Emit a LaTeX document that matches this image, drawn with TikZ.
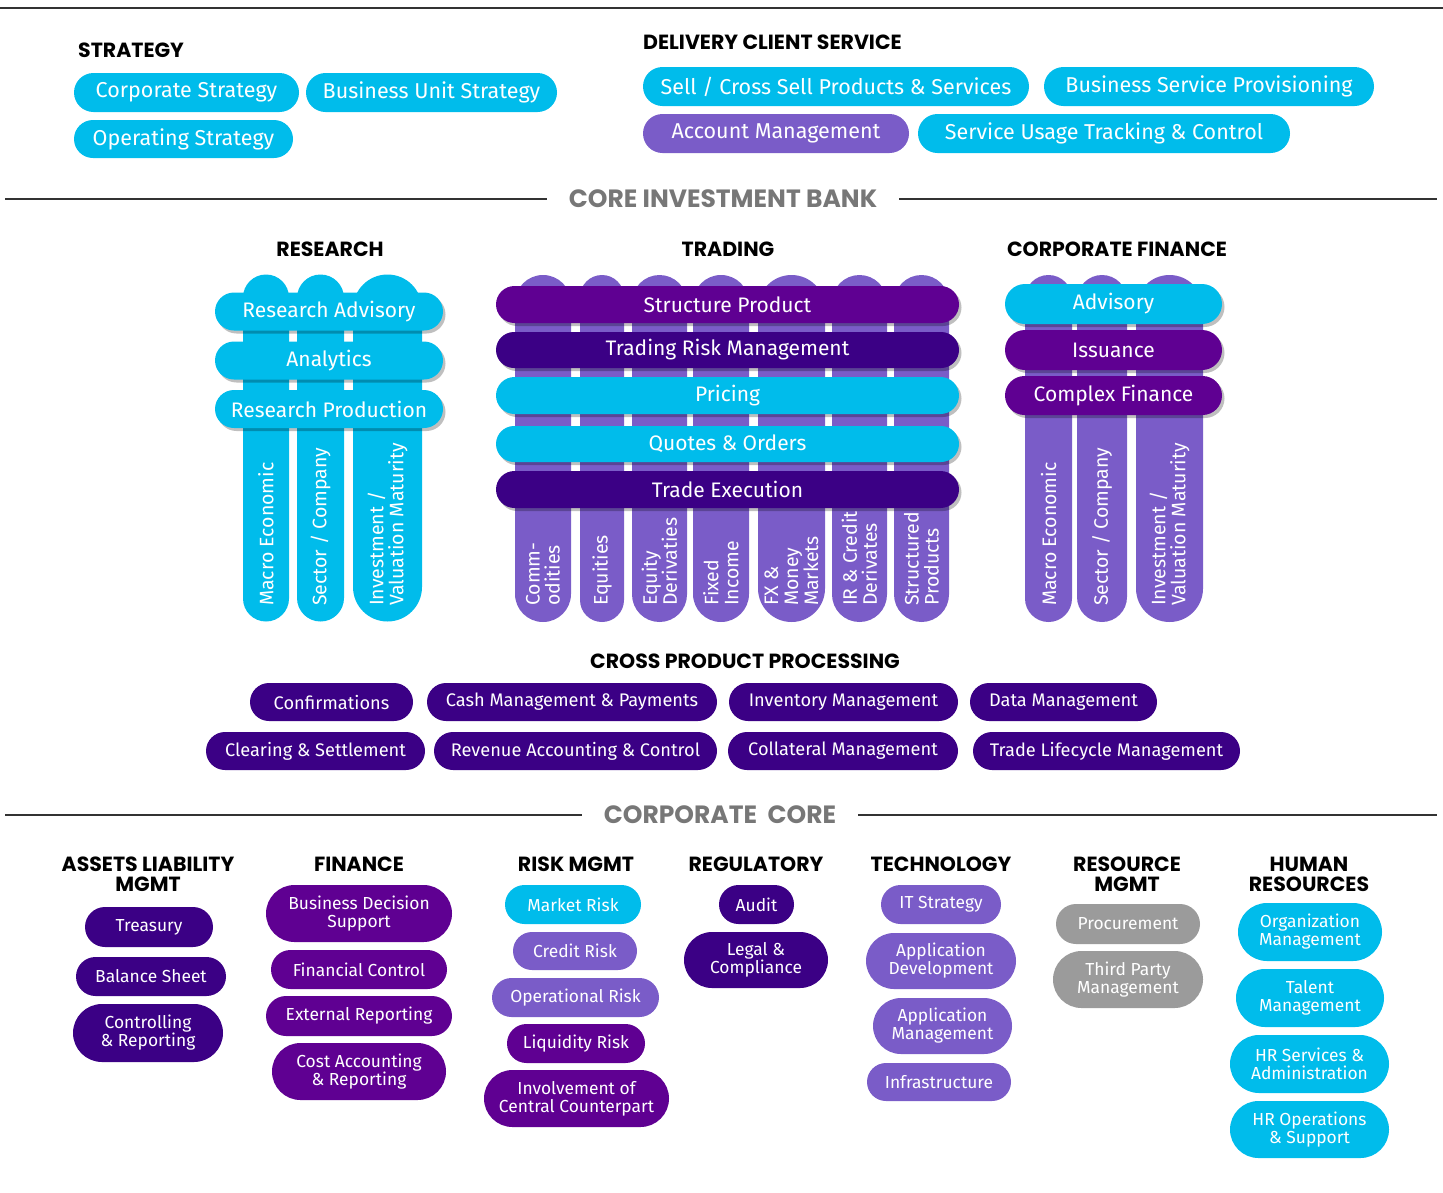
\documentclass[tikz,border=0pt]{standalone}
\usepackage{fontspec}
\setmainfont{Fira Sans}
\newfontfamily\headfont{Poppins}
\usetikzlibrary{shapes.misc,shadows}
\definecolor{acCyan}{HTML}{00BCEB}
\definecolor{acViolet}{HTML}{7A5CC8}
\definecolor{acPurple}{HTML}{5F0092}
\definecolor{acIndigo}{HTML}{3B0085}
\definecolor{acGray}{HTML}{9B9B9B}
\definecolor{headGray}{HTML}{777777}

\begin{document}
\begin{tikzpicture}[x=1pt,y=-1pt,
    pill/.style={rounded rectangle, inner sep=0pt, text=white, align=center, font=\fontsize{21.5}{23}\selectfont},
    cyanpill/.style={pill, fill=acCyan},
    violetpill/.style={pill, fill=acViolet},
    purplepill/.style={pill, fill=acPurple},
    indigopill/.style={pill, fill=acIndigo},
    graypill/.style={pill, fill=acGray},
    band/.style={font=\fontsize{21}{23}\selectfont, minimum height=38,
        drop shadow={shadow xshift=2.5pt, shadow yshift=-3pt, fill=black, opacity=0.25}},
    pillar/.style={rounded rectangle, inner sep=0pt, rotate=90, minimum width=347},
    pillartext/.style={rotate=90, anchor=west, inner sep=0pt, text=white, align=left, font=\fontsize{19.5}{20}\selectfont},
    xpp/.style={indigopill, font=\fontsize{18.2}{20}\selectfont, minimum height=38},
    core/.style={font=\fontsize{17.4}{18}\selectfont},
    head/.style={inner sep=0pt, align=center, font=\headfont\bfseries\fontsize{20.5}{20}\selectfont},
    bighead/.style={inner xsep=22pt, inner ysep=0pt, text=headGray, font=\headfont\bfseries\fontsize{25}{26}\selectfont},
    rule/.style={line width=1.2pt, draw=black!80}
]
\useasboundingbox (0,0) rectangle (1443,1192);

% rules and section titles
\coordinate (topL) at (0,8);
\coordinate (topR) at (1443,8);
\draw[rule] (topL) -- (topR);
\node[bighead] (cib) at (723,199) {CORE INVESTMENT BANK};
\coordinate (cibL) at (5,199);
\coordinate (cibR) at (1437,199);
\draw[rule] (cibL) -- (cib.west);
\draw[rule] (cib.east) -- (cibR);
\node[bighead] (corp) at (720,815) {CORPORATE\ \ CORE};
\coordinate (corpL) at (5,815);
\coordinate (corpR) at (1437,815);
\draw[rule] (corpL) -- (corp.west);
\draw[rule] (corp.east) -- (corpR);

% strategy
\node[head, anchor=west] (strat) at (78,50) {STRATEGY};
\node[cyanpill, minimum width=225, minimum height=39] (corpstrat) at (186.5,92.5) {Corporate Strategy};
\node[cyanpill, minimum width=251, minimum height=39] (bustrat) at (431.5,92.5) {Business Unit Strategy};
\node[cyanpill, minimum width=219, minimum height=38] (opstrat) at (183.5,139) {Operating Strategy};

% delivery client service
\node[head, anchor=west] (dcs) at (643,42) {DELIVERY CLIENT SERVICE};
\node[cyanpill, minimum width=386, minimum height=39] (sell) at (836,86.5) {Sell / Cross Sell Products \& Services};
\node[cyanpill, minimum width=330, minimum height=39] (bsp) at (1209,86.5) {Business Service Provisioning};
\node[violetpill, minimum width=266, minimum height=39] (acct) at (776,133.5) {Account Management};
\node[cyanpill, minimum width=372, minimum height=39] (sutc) at (1104,133.5) {Service Usage Tracking \& Control};

% research
\node[head] (res) at (330,249) {RESEARCH};
\node[pillar, fill=acCyan, minimum height=46] (rcA) at (266,448) {};
\node[pillar, fill=acCyan, minimum height=47] (rcB) at (320.5,448) {};
\node[pillar, fill=acCyan, minimum height=69] (rcC) at (387.5,448) {};
\node[pillartext] (rcAt) at (266,606) {Macro Economic};
\node[pillartext] (rcBt) at (320.5,606) {Sector / Company};
\node[pillartext] (rcCt) at (387.5,606) {Investment /\\Valuation Maturity};
\node[cyanpill, band, minimum width=228] (radv) at (329,311.5) {Research Advisory};
\node[cyanpill, band, minimum width=228] (anal) at (329,360.5) {Analytics};
\node[cyanpill, band, minimum width=228] (rprod) at (329,409) {Research Production};

% trading
\node[head] (trad) at (728,249) {TRADING};
\node[pillar, fill=acViolet, minimum height=56] (tcA) at (543,448.5) {};
\node[pillar, fill=acViolet, minimum height=44] (tcB) at (602,448.5) {};
\node[pillar, fill=acViolet, minimum height=55] (tcC) at (659.5,448.5) {};
\node[pillar, fill=acViolet, minimum height=56] (tcD) at (721,448.5) {};
\node[pillar, fill=acViolet, minimum height=67] (tcE) at (791.5,448.5) {};
\node[pillar, fill=acViolet, minimum height=55] (tcF) at (859.5,448.5) {};
\node[pillar, fill=acViolet, minimum height=55] (tcG) at (921.5,448.5) {};
\begin{scope}[every node/.append style={font=\fontsize{19}{18}\selectfont}]
\node[pillartext] (tcAt) at (543,606) {Comm-\\odities};
\node[pillartext] (tcBt) at (602,606) {Equities};
\node[pillartext] (tcCt) at (659.5,606) {Equity\\Derivaties};
\node[pillartext] (tcDt) at (721,606) {Fixed\\Income};
\node[pillartext] (tcEt) at (791.5,606) {FX \&\\Money\\Markets};
\node[pillartext] (tcFt) at (859.5,606) {IR \& Credit\\Derivates};
\node[pillartext] (tcGt) at (921.5,606) {Structured\\Products};
\end{scope}
\node[purplepill, band, minimum width=463, minimum height=37] (strp) at (727.5,304.5) {Structure Product};
\node[indigopill, band, minimum width=463, minimum height=36] (trm) at (727.5,350) {Trading Risk Management};
\node[cyanpill, band, minimum width=463, minimum height=37] (pric) at (727.5,395.5) {Pricing};
\node[cyanpill, band, minimum width=463, minimum height=36] (qo) at (727.5,444) {Quotes \& Orders};
\node[indigopill, band, minimum width=463, minimum height=37] (texe) at (727.5,489.5) {Trade Execution};

% corporate finance
\node[head] (cf) at (1117,249) {CORPORATE FINANCE};
\node[pillar, fill=acViolet, minimum height=47] (fcA) at (1048.5,448.5) {};
\node[pillar, fill=acViolet, minimum height=50] (fcB) at (1102,448.5) {};
\node[pillar, fill=acViolet, minimum height=67] (fcC) at (1169.5,448.5) {};
\node[pillartext] (fcAt) at (1048.5,606) {Macro Economic};
\node[pillartext] (fcBt) at (1102,606) {Sector / Company};
\node[pillartext] (fcCt) at (1169.5,606) {Investment /\\Valuation Maturity};
\node[cyanpill, band, minimum width=217, minimum height=40] (adv) at (1113.5,304) {Advisory};
\node[purplepill, band, minimum width=217, minimum height=40] (iss) at (1113.5,350) {Issuance};
\node[purplepill, band, minimum width=217, minimum height=39] (cfin) at (1113.5,395.5) {Complex Finance};

% cross product processing
\node[head] (cpp) at (745,661) {CROSS PRODUCT PROCESSING};
\node[xpp, minimum width=163] (conf) at (331.5,702) {Confirmations};
\node[xpp, minimum width=290] (cash) at (572,702) {Cash Management \& Payments};
\node[xpp, minimum width=229] (inv) at (843.5,702) {Inventory Management};
\node[xpp, minimum width=187] (data) at (1063.5,702) {Data Management};
\node[xpp, minimum width=219] (clr) at (315.5,751) {Clearing \& Settlement};
\node[xpp, minimum width=283] (rev) at (575.5,751) {Revenue Accounting \& Control};
\node[xpp, minimum width=230] (coll) at (843,751) {Collateral Management};
\node[xpp, minimum width=267] (tlm) at (1106.5,751) {Trade Lifecycle Management};

% assets liability mgmt
\node[head] (alm) at (148,874) {ASSETS LIABILITY\\MGMT};
\node[indigopill, core, minimum width=128, minimum height=40] (treas) at (149,927) {Treasury};
\node[indigopill, core, minimum width=150, minimum height=39] (bal) at (151,976.5) {Balance Sheet};
\node[indigopill, core, minimum width=150, minimum height=58] (ctrl) at (148,1033) {Controlling\\\& Reporting};

% finance
\node[head] (fin) at (359,864) {FINANCE};
\node[purplepill, core, minimum width=186, minimum height=57] (bds) at (359,913.5) {Business Decision\\Support};
\node[purplepill, core, minimum width=176, minimum height=39] (fctl) at (359,969.5) {Financial Control};
\node[purplepill, core, minimum width=186, minimum height=40] (extr) at (359,1016) {External Reporting};
\node[purplepill, core, minimum width=174, minimum height=57] (cost) at (359,1071.5) {Cost Accounting\\\& Reporting};

% risk mgmt
\node[head] (risk) at (576,864) {RISK MGMT};
\node[cyanpill, core, minimum width=136, minimum height=39] (mr) at (573,904.5) {Market Risk};
\node[violetpill, core, minimum width=124, minimum height=38] (cr) at (575,951) {Credit Risk};
\node[violetpill, core, minimum width=167, minimum height=39] (opr) at (575.5,997.5) {Operational Risk};
\node[purplepill, core, minimum width=138, minimum height=39] (lr) at (576,1043.5) {Liquidity Risk};
\node[purplepill, core, minimum width=185, minimum height=57] (ccp) at (576.5,1098.5) {Involvement of\\Central Counterpart};

% regulatory
\node[head] (reg) at (756,864) {REGULATORY};
\node[indigopill, core, minimum width=75, minimum height=39] (audit) at (756.5,904.5) {Audit};
\node[indigopill, core, minimum width=144, minimum height=56] (legal) at (756,960) {Legal \&\\Compliance};

% technology
\node[head] (tech) at (941,864) {TECHNOLOGY};
\node[violetpill, core, minimum width=120, minimum height=39] (its) at (941,904.5) {IT Strategy};
\node[violetpill, core, minimum width=150, minimum height=56] (appd) at (941,961) {Application\\Development};
\node[violetpill, core, minimum width=139, minimum height=56] (appm) at (942.5,1026) {Application\\Management};
\node[violetpill, core, minimum width=144, minimum height=38] (infra) at (939,1082) {Infrastructure};

% resource mgmt
\node[head] (resm) at (1127,874) {RESOURCE\\MGMT};
\node[graypill, core, minimum width=144, minimum height=40] (proc) at (1128,924) {Procurement};
\node[graypill, core, minimum width=150, minimum height=57] (tpm) at (1128,979.5) {Third Party\\Management};

% human resources
\node[head] (hr) at (1309,874) {HUMAN\\RESOURCES};
\node[cyanpill, core, minimum width=144, minimum height=58] (org) at (1310,932) {Organization\\Management};
\node[cyanpill, core, minimum width=148, minimum height=58] (tal) at (1310,998) {Talent\\Management};
\node[cyanpill, core, minimum width=159, minimum height=58] (hrs) at (1309.5,1064) {HR Services \&\\Administration};
\node[cyanpill, core, minimum width=159, minimum height=57] (hro) at (1309.5,1129.5) {HR Operations\\\& Support};

\end{tikzpicture}
\end{document}
